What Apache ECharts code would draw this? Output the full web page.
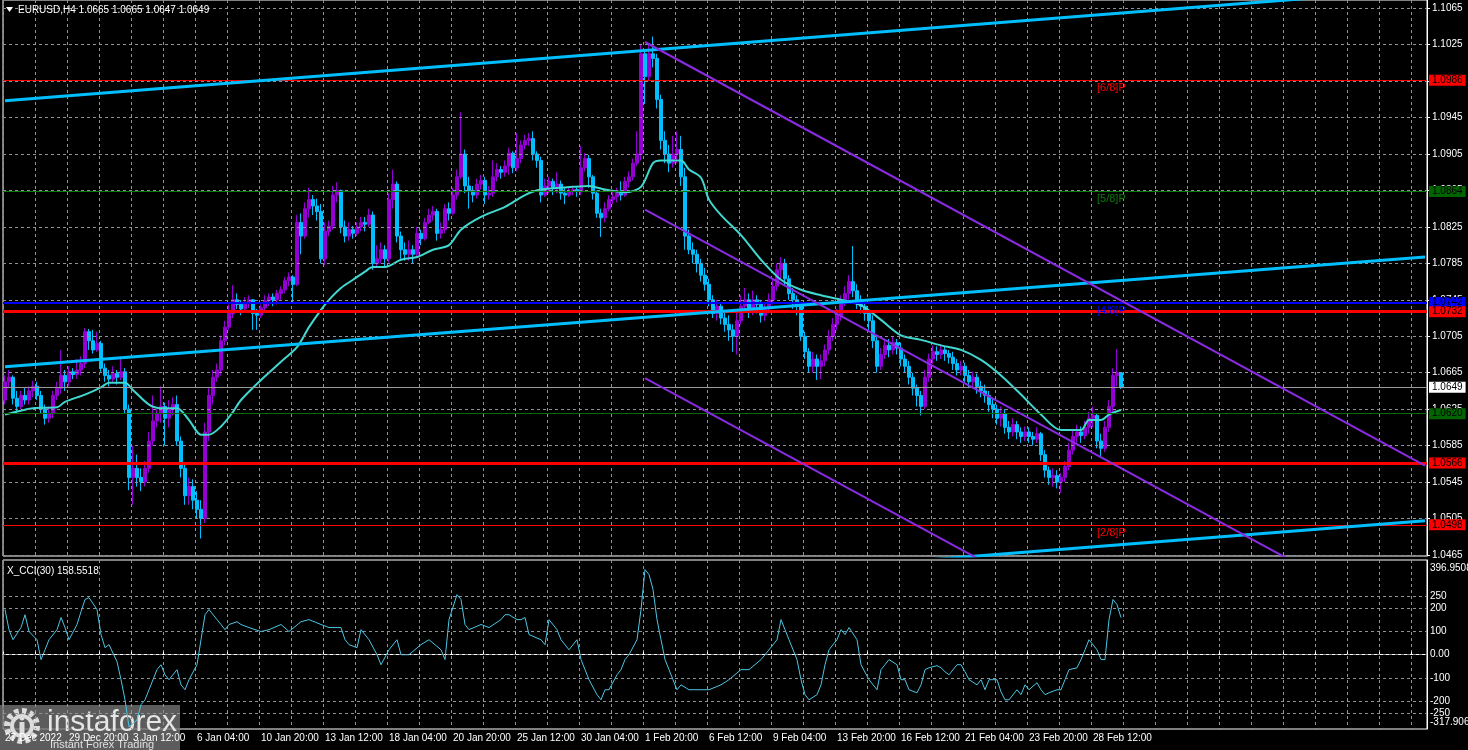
<!DOCTYPE html>
<html><head><meta charset="utf-8">
<script src="https://cdn.jsdelivr.net/npm/echarts@6/dist/echarts.min.js"></script>
<style>html,body{margin:0;padding:0;background:#000;}#c{width:1468px;height:750px;}</style>
</head><body><div id="c"></div>
<script>
// ---------- DATA ----------
const symbolName = 'EURUSD,H4';
// [open, high, low, close] per H4 bar starting 27 Dec 2022 04:00
const candles = [
[1.0635,1.0662,1.0630,1.0655],[1.0655,1.0668,1.0648,1.0660],[1.0660,1.0662,1.0630,1.0637],[1.0637,1.0645,1.0620,1.0628],
[1.0628,1.0645,1.0625,1.0640],[1.0640,1.0648,1.0630,1.0635],[1.0635,1.0650,1.0630,1.0645],[1.0645,1.0656,1.0638,1.0650],
[1.0650,1.0655,1.0635,1.0640],[1.0640,1.0645,1.0620,1.0625],[1.0625,1.0630,1.0608,1.0615],[1.0615,1.0628,1.0610,1.0620],
[1.0620,1.0645,1.0615,1.0640],[1.0640,1.0655,1.0635,1.0648],[1.0648,1.0690,1.0642,1.0662],[1.0662,1.0668,1.0645,1.0655],
[1.0655,1.0672,1.0650,1.0666],[1.0666,1.0670,1.0658,1.0663],[1.0663,1.0680,1.0658,1.0668],[1.0668,1.0683,1.0662,1.0675],
[1.0675,1.0714,1.0670,1.0710],[1.0710,1.0713,1.0690,1.0700],[1.0700,1.0712,1.0686,1.0690],[1.0690,1.0710,1.0688,1.0697],
[1.0697,1.0700,1.0666,1.0670],[1.0670,1.0675,1.0655,1.0662],[1.0662,1.0668,1.0650,1.0658],[1.0658,1.0672,1.0655,1.0664],
[1.0664,1.0668,1.0652,1.0660],[1.0660,1.0683,1.0657,1.0666],[1.0666,1.0670,1.0620,1.0625],[1.0625,1.0630,1.0536,1.0550],
[1.0550,1.0585,1.0520,1.0560],[1.0560,1.0575,1.0540,1.0550],[1.0550,1.0560,1.0535,1.0545],[1.0545,1.0568,1.0540,1.0560],
[1.0560,1.0600,1.0555,1.0590],[1.0590,1.0640,1.0585,1.0612],[1.0612,1.0625,1.0605,1.0620],[1.0620,1.0650,1.0610,1.0628],
[1.0628,1.0632,1.0585,1.0615],[1.0615,1.0635,1.0605,1.0625],[1.0625,1.0638,1.0618,1.0630],[1.0630,1.0640,1.0585,1.0590],
[1.0590,1.0595,1.0550,1.0560],[1.0560,1.0565,1.0520,1.0530],[1.0530,1.0550,1.0520,1.0540],[1.0540,1.0548,1.0515,1.0525],
[1.0525,1.0535,1.0505,1.0515],[1.0515,1.0525,1.0483,1.0505],[1.0505,1.0610,1.0500,1.0600],[1.0600,1.0648,1.0590,1.0640],
[1.0640,1.0668,1.0630,1.0660],[1.0660,1.0675,1.0655,1.0668],[1.0668,1.0706,1.0662,1.0700],[1.0700,1.0722,1.0695,1.0715],
[1.0715,1.0740,1.0712,1.0730],[1.0730,1.0761,1.0725,1.0745],[1.0745,1.0752,1.0735,1.0740],[1.0740,1.0745,1.0728,1.0735],
[1.0735,1.0748,1.0732,1.0742],[1.0742,1.0750,1.0736,1.0745],[1.0745,1.0746,1.0712,1.0730],[1.0730,1.0735,1.0712,1.0728],
[1.0728,1.0740,1.0725,1.0736],[1.0736,1.0750,1.0732,1.0744],[1.0744,1.0752,1.0738,1.0748],[1.0748,1.0752,1.0738,1.0745],
[1.0745,1.0756,1.0740,1.0752],[1.0752,1.0760,1.0745,1.0756],[1.0756,1.0770,1.0752,1.0766],[1.0766,1.0775,1.0760,1.0770],
[1.0770,1.0772,1.0742,1.0762],[1.0762,1.0838,1.0760,1.0830],[1.0830,1.0840,1.0795,1.0815],[1.0815,1.0852,1.0812,1.0845],
[1.0845,1.0868,1.0835,1.0855],[1.0855,1.0860,1.0838,1.0848],[1.0848,1.0856,1.0832,1.0842],[1.0842,1.0850,1.0785,1.0790],
[1.0790,1.0830,1.0783,1.0820],[1.0820,1.0832,1.0815,1.0826],[1.0826,1.0870,1.0822,1.0860],[1.0860,1.0874,1.0852,1.0865],
[1.0865,1.0866,1.0818,1.0825],[1.0825,1.0832,1.0808,1.0815],[1.0815,1.0830,1.0810,1.0822],[1.0822,1.0826,1.0812,1.0818],
[1.0818,1.0830,1.0815,1.0825],[1.0825,1.0836,1.0820,1.0830],[1.0830,1.0836,1.0820,1.0828],[1.0828,1.0845,1.0825,1.0838],
[1.0838,1.0842,1.0778,1.0785],[1.0785,1.0805,1.0780,1.0790],[1.0790,1.0808,1.0785,1.0800],[1.0800,1.0805,1.0780,1.0790],
[1.0790,1.0862,1.0786,1.0855],[1.0855,1.0888,1.0845,1.0872],[1.0872,1.0875,1.0808,1.0815],[1.0815,1.0820,1.0790,1.0800],
[1.0800,1.0808,1.0788,1.0795],[1.0795,1.0810,1.0788,1.0800],[1.0800,1.0805,1.0785,1.0795],[1.0795,1.0825,1.0792,1.0818],
[1.0818,1.0822,1.0805,1.0812],[1.0812,1.0835,1.0810,1.0830],[1.0830,1.0845,1.0828,1.0838],[1.0838,1.0848,1.0832,1.0842],
[1.0842,1.0845,1.0810,1.0818],[1.0818,1.0830,1.0812,1.0822],[1.0822,1.0850,1.0818,1.0845],[1.0845,1.0852,1.0832,1.0840],
[1.0840,1.0868,1.0838,1.0860],[1.0860,1.0888,1.0855,1.0880],[1.0880,1.0951,1.0878,1.0905],[1.0905,1.0910,1.0862,1.0870],
[1.0870,1.0880,1.0845,1.0865],[1.0865,1.0870,1.0852,1.0860],[1.0860,1.0878,1.0856,1.0872],[1.0872,1.0882,1.0866,1.0876],
[1.0876,1.0880,1.0850,1.0860],[1.0860,1.0870,1.0855,1.0862],[1.0862,1.0898,1.0858,1.0880],[1.0880,1.0895,1.0875,1.0888],
[1.0888,1.0892,1.0878,1.0885],[1.0885,1.0898,1.0880,1.0892],[1.0892,1.0912,1.0882,1.0906],[1.0906,1.0908,1.0884,1.0890],
[1.0890,1.0928,1.0886,1.0900],[1.0900,1.0920,1.0895,1.0915],[1.0915,1.0926,1.0910,1.0920],[1.0920,1.0928,1.0914,1.0922],
[1.0922,1.0930,1.0898,1.0905],[1.0905,1.0908,1.0890,1.0898],[1.0898,1.0902,1.0852,1.0860],[1.0860,1.0878,1.0858,1.0870],
[1.0870,1.0880,1.0862,1.0875],[1.0875,1.0878,1.0860,1.0868],[1.0868,1.0885,1.0862,1.0872],[1.0872,1.0876,1.0855,1.0862],
[1.0862,1.0868,1.0850,1.0860],[1.0860,1.0868,1.0858,1.0864],[1.0864,1.0870,1.0860,1.0866],[1.0866,1.0870,1.0858,1.0864],
[1.0864,1.0914,1.0860,1.0890],[1.0890,1.0906,1.0886,1.0900],[1.0900,1.0904,1.0868,1.0880],[1.0880,1.0882,1.0855,1.0862],
[1.0862,1.0865,1.0835,1.0840],[1.0840,1.0845,1.0814,1.0835],[1.0835,1.0852,1.0830,1.0845],[1.0845,1.0860,1.0842,1.0855],
[1.0855,1.0865,1.0850,1.0858],[1.0858,1.0868,1.0852,1.0862],[1.0862,1.0875,1.0854,1.0860],[1.0860,1.0880,1.0858,1.0875],
[1.0875,1.0886,1.0868,1.0880],[1.0880,1.0900,1.0876,1.0895],[1.0895,1.0930,1.0892,1.0905],[1.0905,1.1025,1.0898,1.1015],
[1.1015,1.1020,1.0960,1.0990],[1.0990,1.1025,1.0985,1.1015],[1.1015,1.1034,1.1000,1.1010],[1.1010,1.1015,1.0955,1.0965],
[1.0965,1.0970,1.0910,1.0920],[1.0920,1.0930,1.0895,1.0905],[1.0905,1.0915,1.0885,1.0895],[1.0895,1.0925,1.0890,1.0905],
[1.0905,1.0930,1.0895,1.0910],[1.0910,1.0925,1.0870,1.0880],[1.0880,1.0890,1.0800,1.0815],[1.0815,1.0822,1.0795,1.0800],
[1.0800,1.0808,1.0785,1.0795],[1.0795,1.0800,1.0775,1.0785],[1.0785,1.0790,1.0765,1.0772],[1.0772,1.0780,1.0755,1.0762],
[1.0762,1.0768,1.0738,1.0745],[1.0745,1.0750,1.0725,1.0730],[1.0730,1.0745,1.0722,1.0738],[1.0738,1.0742,1.0718,1.0725],
[1.0725,1.0732,1.0710,1.0718],[1.0718,1.0728,1.0700,1.0712],[1.0712,1.0718,1.0688,1.0705],[1.0705,1.0735,1.0685,1.0722],
[1.0722,1.0750,1.0718,1.0738],[1.0738,1.0758,1.0732,1.0745],[1.0745,1.0752,1.0725,1.0735],[1.0735,1.0755,1.0728,1.0745],
[1.0745,1.0750,1.0730,1.0740],[1.0740,1.0745,1.0720,1.0728],[1.0728,1.0742,1.0722,1.0735],[1.0735,1.0752,1.0730,1.0745],
[1.0745,1.0768,1.0740,1.0760],[1.0760,1.0785,1.0755,1.0778],[1.0778,1.0792,1.0768,1.0785],[1.0785,1.0790,1.0760,1.0768],
[1.0768,1.0772,1.0745,1.0752],[1.0752,1.0758,1.0735,1.0745],[1.0745,1.0750,1.0728,1.0738],[1.0738,1.0742,1.0700,1.0705],
[1.0705,1.0710,1.0680,1.0688],[1.0688,1.0692,1.0665,1.0672],[1.0672,1.0688,1.0665,1.0680],[1.0680,1.0685,1.0657,1.0672],
[1.0672,1.0685,1.0658,1.0678],[1.0678,1.0696,1.0672,1.0690],[1.0690,1.0712,1.0685,1.0705],[1.0705,1.0725,1.0700,1.0718],
[1.0718,1.0735,1.0712,1.0728],[1.0728,1.0750,1.0722,1.0742],[1.0742,1.0760,1.0738,1.0752],[1.0752,1.0772,1.0745,1.0765],
[1.0765,1.0804,1.0748,1.0755],[1.0755,1.0762,1.0735,1.0742],[1.0742,1.0750,1.0730,1.0738],[1.0738,1.0742,1.0722,1.0730],
[1.0730,1.0735,1.0712,1.0722],[1.0722,1.0728,1.0692,1.0700],[1.0700,1.0705,1.0665,1.0672],[1.0672,1.0692,1.0668,1.0685],
[1.0685,1.0702,1.0680,1.0695],[1.0695,1.0702,1.0682,1.0690],[1.0690,1.0705,1.0685,1.0698],[1.0698,1.0702,1.0685,1.0692],
[1.0692,1.0698,1.0672,1.0680],[1.0680,1.0685,1.0665,1.0672],[1.0672,1.0678,1.0652,1.0660],[1.0660,1.0665,1.0640,1.0648],
[1.0648,1.0652,1.0628,1.0640],[1.0640,1.0645,1.0618,1.0628],[1.0628,1.0668,1.0625,1.0660],[1.0660,1.0686,1.0655,1.0680],
[1.0680,1.0695,1.0675,1.0688],[1.0688,1.0694,1.0678,1.0685],[1.0685,1.0696,1.0680,1.0690],[1.0690,1.0694,1.0678,1.0686],
[1.0686,1.0690,1.0675,1.0682],[1.0682,1.0688,1.0668,1.0675],[1.0675,1.0680,1.0662,1.0668],[1.0668,1.0678,1.0662,1.0672],
[1.0672,1.0676,1.0655,1.0662],[1.0662,1.0668,1.0648,1.0655],[1.0655,1.0666,1.0648,1.0660],[1.0660,1.0664,1.0642,1.0650],
[1.0650,1.0656,1.0638,1.0645],[1.0645,1.0652,1.0632,1.0640],[1.0640,1.0645,1.0622,1.0630],[1.0630,1.0636,1.0615,1.0625],
[1.0625,1.0630,1.0608,1.0615],[1.0615,1.0628,1.0606,1.0620],[1.0620,1.0625,1.0598,1.0605],[1.0605,1.0612,1.0592,1.0600],
[1.0600,1.0615,1.0595,1.0608],[1.0608,1.0612,1.0592,1.0600],[1.0600,1.0605,1.0588,1.0595],[1.0595,1.0606,1.0590,1.0600],
[1.0600,1.0605,1.0588,1.0595],[1.0595,1.0600,1.0585,1.0592],[1.0592,1.0605,1.0588,1.0598],[1.0598,1.0600,1.0568,1.0575],
[1.0575,1.0580,1.0550,1.0558],[1.0558,1.0562,1.0542,1.0550],[1.0550,1.0560,1.0540,1.0552],[1.0552,1.0558,1.0538,1.0545],
[1.0545,1.0555,1.0533,1.0550],[1.0550,1.0568,1.0545,1.0562],[1.0562,1.0588,1.0558,1.0580],[1.0580,1.0602,1.0575,1.0595],
[1.0595,1.0608,1.0588,1.0600],[1.0600,1.0606,1.0588,1.0596],[1.0596,1.0612,1.0592,1.0605],[1.0605,1.0622,1.0598,1.0615],
[1.0615,1.0628,1.0605,1.0618],[1.0618,1.0620,1.0582,1.0590],[1.0590,1.0598,1.0572,1.0582],[1.0582,1.0612,1.0578,1.0605],
[1.0605,1.0635,1.0600,1.0628],[1.0628,1.0670,1.0622,1.0662],[1.0662,1.0691,1.0650,1.0665],[1.0665,1.0665,1.0647,1.0649]
];
// moving average read at sampled bars: [barIndex, value]
const maPoints = [[0,1.0619],[7,1.0626],[13,1.0627],[15,1.0633],[20,1.0641],[24,1.0649],[26,1.0654],[30,1.0654],[32,1.0646],
[36,1.0630],[39,1.0626],[43,1.0626],[46,1.0613],[49,1.0597],[51,1.0597],[54,1.0606],[57,1.0622],[59,1.0635],[64,1.0657],
[69,1.0677],[73,1.0693],[76,1.0715],[79,1.0734],[81,1.0745],[84,1.0758],[87,1.0767],[90,1.0776],[92,1.0781],[95,1.0781],
[99,1.0789],[103,1.0792],[107,1.0800],[111,1.0805],[114,1.0822],[119,1.0836],[125,1.0847],[130,1.0860],[134,1.0866],
[142,1.0869],[146,1.0870],[150,1.0866],[155,1.0863],[159,1.0869],[162,1.0895],[164,1.0898],[169,1.0898],[171,1.0888],
[174,1.0879],[176,1.0855],[179,1.0838],[184,1.0816],[189,1.0789],[194,1.0767],[199,1.0756],[204,1.0750],[209,1.0745],
[214,1.0739],[219,1.0723],[224,1.0706],[229,1.0701],[234,1.0695],[239,1.0690],[244,1.0679],[249,1.0662],[254,1.0641],
[259,1.0619],[264,1.0602],[269,1.0602],[271,1.0613],[274,1.0613],[276,1.0619],[279,1.0624]];
// CCI(30): [barIndex, value]
const cciPoints = [[0,193],[1,107],[2,64],[4,116],[5,171],[6,99],[8,64],[9,-21],[10,21],[11,64],[13,107],[14,159],[15,116],
[16,64],[18,129],[19,184],[20,236],[21,244],[23,193],[24,86],[25,30],[26,43],[28,-30],[29,-107],[30,-193],[31,-309],[33,-279],
[34,-214],[35,-193],[36,-150],[38,-64],[39,-43],[40,-86],[41,-107],[43,-64],[44,-129],[45,-150],[46,-107],[48,-43],[49,64],
[50,171],[51,193],[53,150],[54,129],[55,107],[56,129],[58,141],[59,129],[61,116],[64,99],[66,107],[69,129],[71,99],[74,141],
[76,150],[79,129],[81,116],[84,116],[85,64],[86,43],[88,30],[89,107],[91,64],[93,0],[94,-43],[96,21],[98,64],[99,0],[101,0],
[104,43],[106,64],[109,21],[110,-21],[111,150],[113,257],[114,236],[115,129],[116,107],[119,129],[121,116],[124,150],[125,171],
[126,171],[128,150],[129,150],[130,159],[131,86],[134,64],[135,43],[136,150],[138,107],[139,64],[141,21],[143,64],[144,-21],
[145,-64],[146,-107],[148,-171],[149,-193],[150,-150],[151,-150],[153,-86],[154,-64],[155,-21],[156,0],[158,64],[159,193],
[160,364],[161,343],[162,279],[163,150],[164,64],[165,-21],[166,-64],[167,-107],[168,-150],[169,-129],[171,-150],[174,-150],
[176,-150],[179,-129],[181,-107],[184,-64],[186,-64],[189,-21],[191,21],[193,64],[194,150],[195,107],[196,64],[198,-21],
[199,-107],[200,-171],[201,-193],[203,-171],[204,-129],[205,-43],[206,21],[208,64],[209,107],[210,86],[211,116],[213,64],
[214,-43],[216,-107],[218,-150],[219,-64],[220,-43],[221,-21],[223,-43],[224,-107],[225,-107],[226,-150],[228,-163],[229,-129],
[230,-64],[231,-56],[233,-47],[234,-56],[235,-73],[236,-86],[238,-43],[239,-43],[240,-73],[241,-107],[243,-129],[244,-107],
[245,-150],[246,-107],[248,-107],[249,-159],[250,-193],[251,-193],[253,-150],[254,-171],[255,-129],[256,-150],[258,-120],
[259,-150],[260,-171],[261,-163],[263,-150],[264,-150],[265,-107],[266,-64],[268,-56],[269,-21],[270,21],[271,64],[273,21],
[274,-21],[275,-21],[276,150],[277,236],[278,214],[279,158.5518]];
const priceTicks = [1.0465,1.0505,1.0545,1.0585,1.0625,1.0665,1.0705,1.0745,1.0785,1.0825,1.0865,1.0905,1.0945,1.0985,1.1025,1.1065];
const cciTicks = [250,200,100,0,-100,-200,-250];
const cciRange = [-317.906, 396.9508];
// trend channel anchors: [barIndexStart, priceStart, barIndexEnd, priceEnd]
const blueChannel = [[0,1.09634,355,1.10860],[0,1.06715,355,1.07921],[0,1.03801,355,1.05024]];
const purpleChannel = [[160,1.1028,355,1.0563],[160,1.0844,355,1.0379],[160,1.0659,355,1.0195]];
// horizontal levels
const levelPrices = [1.0986,1.0864,1.0742,1.0732,1.0649,1.0620,1.0566,1.0498];
const levelTags = ['[6/8]P','[5/8]P','[4/8]P','','','','','[2/8]P'];
const totalSlots = 356;

// ---------- BUILD ----------
const MON = ['Jan','Feb','Mar','Apr','May','Jun','Jul','Aug','Sep','Oct','Nov','Dec'];
const times = [];
{ let t = Date.UTC(2022,11,27,4); while (times.length < totalSlots) { const d = new Date(t); const wd = d.getUTCDay(); if (wd !== 0 && wd !== 6) times.push(d); t += 4*3600e3; } }
const cats = times.map(d => d.toISOString());
function fmtLabel(i){ const d = times[i]; if (i===0) return d.getUTCDate()+' '+MON[d.getUTCMonth()]+' '+d.getUTCFullYear();
  const hh = String(d.getUTCHours()).padStart(2,'0'); return d.getUTCDate()+' '+MON[d.getUTCMonth()]+' '+hh+':00'; }

const levelStyles = [
  {c:'#ff0000', w:1, bg:'#ff0000'},
  {c:'#0a7a0a', w:1, bg:'#006400'},
  {c:'#0000ff', w:2, bg:'#0000ff'},
  {c:'#ff0000', w:3, bg:'#ff0000'},
  {c:'#9a9a9a', w:1, bg:'#ffffff'},
  {c:'#0a6a0a', w:1, bg:'#006400'},
  {c:'#ff0000', w:3, bg:'#ff0000'},
  {c:'#ff0000', w:1, bg:'#ff0000'}
];
const tagColors = ['#ff0000','#0a7a0a','#0000ff','','','','','#ff0000'];

const last = candles[candles.length-1];
const FONT = 'Liberation Sans';
const gridDash = {color:'#8c939c', width:1, type:[3,3]};

const series = [];
series.push({type:'line', xAxisIndex:0, yAxisIndex:0, data:[], silent:true, z:1,
  markLine:{silent:true, precision:6, symbol:['none','none'], animation:false, label:{show:false}, lineStyle:gridDash,
    data: priceTicks.map(v=>({yAxis:v}))}});
series.push({type:'line', xAxisIndex:1, yAxisIndex:1, data:[], silent:true, z:1,
  markLine:{silent:true, precision:6, symbol:['none','none'], animation:false, label:{show:false}, lineStyle:gridDash,
    data: cciTicks.map(v=>({yAxis:v}))}});
series.push({type:'candlestick', xAxisIndex:0, yAxisIndex:0, z:3, barWidth:3,
  data: candles.map(c=>[c[0],c[3],c[2],c[1]]),
  itemStyle:{color:'#9400d3', color0:'#00bfff', borderColor:'#9400d3', borderColor0:'#00bfff', borderWidth:1}});
series.push({type:'line', xAxisIndex:0, yAxisIndex:0, z:4, data:maPoints, showSymbol:false, symbol:'none', smooth:0.3,
  lineStyle:{color:'#40d8d0', width:2}});
blueChannel.forEach(a=>series.push({type:'line', xAxisIndex:0, yAxisIndex:0, z:5, symbol:'none', clip:true,
  data:[[a[0],a[1]],[a[2],a[3]]], lineStyle:{color:'#00bfff', width:3}}));
purpleChannel.forEach(a=>series.push({type:'line', xAxisIndex:0, yAxisIndex:0, z:5, symbol:'none', clip:true,
  data:[[a[0],a[1]],[a[2],a[3]]], lineStyle:{color:'#8a2be2', width:2}}));
series.push({type:'line', xAxisIndex:0, yAxisIndex:0, data:[], z:6, silent:true,
  markLine:{silent:true, precision:6, symbol:['none','none'], animation:false,
    data: levelPrices.map((v,i)=>({yAxis:v, lineStyle:{color:levelStyles[i].c, width:levelStyles[i].w, type:'solid'},
      label:{show:true, position:'end', distance:2, formatter:v.toFixed(4), color:'#000', backgroundColor:levelStyles[i].bg,
        padding:[1,3,0,3], fontSize:10, fontFamily:FONT}}))},
  markPoint:{silent:true, animation:false, symbol:'circle', symbolSize:0,
    data: levelPrices.map((v,i)=>levelTags[i]?({coord:[273,v], label:{show:true, formatter:levelTags[i], position:'right', distance:0,
      offset:[0,8], color:tagColors[i], fontSize:11, fontFamily:FONT}}):null).filter(Boolean)}});
series.push({type:'line', xAxisIndex:1, yAxisIndex:1, z:4, data:cciPoints, symbol:'none', showSymbol:false,
  lineStyle:{color:'#4cc6e4', width:1}});

const xBase = {type:'category', data:cats, boundaryGap:true,
  splitLine:{show:true, interval:(i)=>i%8===0, lineStyle:gridDash}};

const option = {
  animation:false, backgroundColor:'#000',
  textStyle:{fontFamily:FONT},
  grid:[
    {left:3, right:41, top:0, height:556, show:true, borderColor:'#fff', borderWidth:1, backgroundColor:'transparent'},
    {left:3, right:41, top:560, height:169, show:true, borderColor:'#fff', borderWidth:1, backgroundColor:'transparent'}
  ],
  xAxis:[
    Object.assign({}, xBase, {gridIndex:0, axisLine:{show:false}, axisTick:{show:false}, axisLabel:{show:false}}),
    Object.assign({}, xBase, {gridIndex:1, axisLine:{show:true, lineStyle:{color:'#fff'}},
      axisTick:{show:true, inside:true, length:3, interval:(i)=>i%8===0, lineStyle:{color:'#fff'}},
      axisLabel:{show:true, interval:(i)=>i%16===0 && i<candles.length, formatter:(v,i)=>fmtLabel(i),
        color:'#fff', fontSize:10, align:'left', margin:4}})
  ],
  yAxis:[
    {type:'value', gridIndex:0, position:'right', min:1.04638, max:1.10741,
      axisLine:{show:true, lineStyle:{color:'#fff'}},
      axisTick:{show:true, length:3, customValues:priceTicks, lineStyle:{color:'#fff'}},
      axisLabel:{show:true, customValues:priceTicks, formatter:(v)=>Number(v).toFixed(4), color:'#fff', fontSize:10, margin:5},
      splitLine:{show:false}},
    {type:'value', gridIndex:1, position:'right', min:cciRange[0], max:405,
      axisLine:{show:true, lineStyle:{color:'#fff'}},
      axisTick:{show:false, customValues:cciTicks},
      axisLabel:{show:true, customValues:cciTicks, formatter:(v)=>v===0?'0.00':String(v), color:'#fff', fontSize:10, margin:3},
      splitLine:{show:false}}
  ],
  series: series,
  graphic:[
    {type:'polygon', shape:{points:[[6,7],[13,7],[9.5,12]]}, style:{fill:'#fff'}, z:100},
    {type:'text', x:18, y:10, style:{text:symbolName+' '+last.map(v=>v.toFixed(4)).join(' '), fill:'#fff', font:'10px '+FONT, verticalAlign:'middle'}, z:100},
    {type:'text', x:7, y:571, style:{text:'X_CCI(30) '+cciPoints[cciPoints.length-1][1].toFixed(4), fill:'#fff', font:'10px '+FONT, verticalAlign:'middle'}, z:100},
    {type:'text', x:1430, y:568, style:{text:cciRange[1].toFixed(4), fill:'#fff', font:'10px '+FONT, verticalAlign:'middle'}, z:100},
    {type:'text', x:1430, y:722, style:{text:cciRange[0].toFixed(3), fill:'#fff', font:'10px '+FONT, verticalAlign:'middle'}, z:100},
    {type:'group', z:200, children:[
      {type:'rect', shape:{x:0, y:705, width:180, height:45}, style:{fill:'rgba(115,115,115,0.8)'}},
      {type:'circle', shape:{cx:22, cy:726, r:15}, style:{fill:'none', stroke:'#dcdcdc', lineWidth:6, lineDash:[4.5,3.3]}},
      {type:'circle', shape:{cx:22, cy:726, r:10}, style:{fill:'none', stroke:'#dcdcdc', lineWidth:4}},
      {type:'rect', shape:{x:19.5, y:722, width:5, height:14}, style:{fill:'#dcdcdc'}},
      {type:'circle', shape:{cx:22, cy:718, r:2.5}, style:{fill:'#dcdcdc'}},
      {type:'text', x:47, y:723, style:{text:'instaforex', fill:'#e6e6e6', font:'30px '+FONT, verticalAlign:'middle'}},
      {type:'text', x:50, y:745, style:{text:'Instant Forex Trading', fill:'#e0e0e0', font:'11px '+FONT, verticalAlign:'middle'}}
    ]}
  ]
};
const chart = echarts.init(document.getElementById('c'), null, {renderer:'canvas'});
chart.setOption(option);
</script></body></html>
